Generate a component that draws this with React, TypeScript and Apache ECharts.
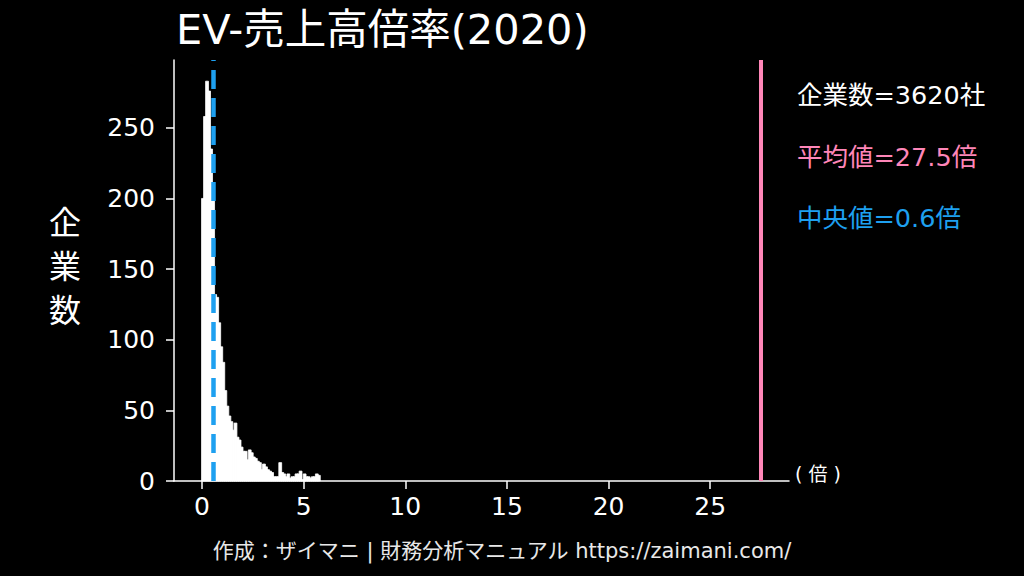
import React, { useEffect, useRef } from "react";
import * as echarts from "echarts";

const FONT = '"DejaVu Sans", "Noto Sans CJK JP", sans-serif';

const titleText = "EV-売上高倍率(2020)";
const yLabel = "企\n業\n数";
const unitLabel = "( 倍 )";
const footerText = "作成：ザイマニ | 財務分析マニュアル https://zaimani.com/";

const binWidth = 0.1;
const binCounts = [
  200, 258, 283, 276, 235, 200, 132, 130, 112, 95,
  84, 64, 53, 46, 42, 36, 41, 31, 29, 24,
  21, 21, 15, 22, 20, 17, 16, 14, 13, 8,
  12, 10, 8, 7, 6, 3, 3, 3, 13, 6,
  5, 3, 5, 2, 3, 3, 5, 5, 7, 1,
  5, 3, 3, 2, 3, 3, 5, 4,
];

const xTicks = [0, 5, 10, 15, 20, 25];
const yTicks = [0, 50, 100, 150, 200, 250];

const companyCount = 3620;
const meanValue = 27.5;
const medianValue = 0.55;
const meanLabel = "平均値=27.5倍";
const medianLabel = "中央値=0.6倍";
const countLabel = `企業数=${companyCount}社`;

const PINK = "#ff86b8";
const BLUE = "#1ea0f0";

export default function App() {
  const ref = useRef<HTMLDivElement>(null);
  useEffect(() => {
    const chart = echarts.init(ref.current!, null, { renderer: "svg" });
    const text = (t: string, x: number, y: number, size: number, fill: string, align = "left", extra: any = {}) => ({
      type: "text",
      x,
      y,
      silent: true,
      style: {
        text: t,
        fill,
        fontSize: size,
        fontFamily: FONT,
        align,
        verticalAlign: "middle",
        textAlign: align,
        textVerticalAlign: "middle",
        ...extra,
      },
    });
    const option: any = {
      backgroundColor: "#000000",
      animation: false,
      textStyle: { fontFamily: FONT },
      grid: { left: 174, right: 235, top: 60, bottom: 95, containLabel: false },
      xAxis: {
        type: "value",
        min: -1.375,
        max: 28.875,
        axisLine: { show: true, onZero: false, lineStyle: { color: "#ffffff", width: 1.5 } },
        axisTick: { show: true, customValues: xTicks, length: 8, lineStyle: { color: "#ffffff", width: 1.5 } },
        axisLabel: { show: true, customValues: xTicks, color: "#ffffff", fontSize: 25, margin: 13, fontFamily: FONT },
        splitLine: { show: false },
      },
      yAxis: {
        type: "value",
        min: 0,
        max: 298,
        axisLine: { show: true, onZero: false, lineStyle: { color: "#ffffff", width: 1.5 } },
        axisTick: { show: true, customValues: yTicks, length: 8, lineStyle: { color: "#ffffff", width: 1.5 } },
        axisLabel: { show: true, customValues: yTicks, color: "#ffffff", fontSize: 25, margin: 19, fontFamily: FONT },
        splitLine: { show: false },
      },
      series: [
        {
          type: "custom",
          silent: true,
          data: binCounts.map((c, i) => [i * binWidth, (i + 1) * binWidth, c]),
          encode: { x: [0, 1], y: 2 },
          renderItem: (params: any, api: any) => {
            const p0 = api.coord([api.value(0), 0]);
            const p1 = api.coord([api.value(1), api.value(2)]);
            return {
              type: "rect",
              shape: { x: p0[0] - 0.4, y: p1[1], width: p1[0] - p0[0] + 0.8, height: p0[1] - p1[1] },
              style: { fill: "#ffffff", stroke: "#ffffff", lineWidth: 0.8 },
            };
          },
          markLine: {
            silent: true,
            symbol: ["none", "none"],
            label: { show: false },
            data: [
              { xAxis: meanValue, lineStyle: { color: PINK, width: 4, type: "solid" } },
              { xAxis: medianValue, lineStyle: { color: BLUE, width: 4.5, type: [19, 9] } },
            ],
          },
        },
      ],
      graphic: [
        text(titleText, 176, 29, 41.5, "#ffffff"),
        text(yLabel, 65, 267, 32, "#ffffff", "center", { lineHeight: 44 }),
        text(countLabel, 797, 95, 25.5, "#ffffff"),
        text(meanLabel, 797, 157, 25.5, PINK),
        text(medianLabel, 797, 218, 25.5, BLUE),
        text(unitLabel, 795, 474, 19, "#ffffff"),
        text(footerText, 502, 551, 21, "#e8e8e8", "center"),
      ],
    };
    chart.setOption(option);
    return () => chart.dispose();
  }, []);
  return (
    <div
      ref={ref}
      style={{ position: "fixed", left: 0, top: 0, width: 1024, height: 576, background: "#000" }}
    />
  );
}
